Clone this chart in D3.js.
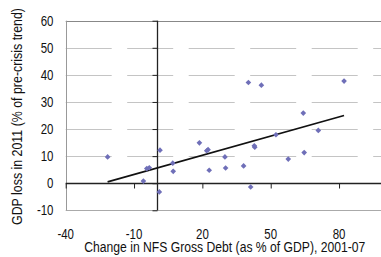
<!DOCTYPE html>
<html>
<head>
<meta charset="utf-8">
<script src="https://cdn.jsdelivr.net/npm/d3@7"></script>
<style>
  html, body { margin: 0; padding: 0; background: #fff; }
  svg { display: block; }
</style>
</head>
<body>
<div id="chart"></div>
<script>
// change in NFS gross debt (x) vs GDP loss (y)
const debtChange = [-21.6, 1.4, -4.4, -3.3, 7.0, 7.2, -5.9, 1.1, 18.7, 21.9, 22.5, 29.9, 23.0,
  30.2, 38.1, 42.8, 43.0, 52.3, 57.7, 41.2, 82.2, 64.3, 70.9, 64.7, 40.2, 45.9];
const gdpLoss = [9.7, 12.2, 5.4, 5.7, 7.4, 4.4, 0.8, -3.2, 14.9, 12.0, 12.4, 9.7, 4.8,
  5.6, 6.4, 13.8, 13.3, 17.9, 8.9, -1.4, 37.7, 25.9, 19.5, 11.3, 37.2, 36.2];
// trend line end points
const trendX = [-21.6, 82.2];
const trendY = [0.5, 25.0];

const xTicks = [-40, -10, 20, 50, 80];
const yTicks = [-10, 0, 10, 20, 30, 40, 50, 60];

const WIDTH = 381, HEIGHT = 257;
const FONT = "'Liberation Sans', Arial, sans-serif";
const FONT_SIZE = "14px";
const NARROW = 0.82; // mimic Arial Narrow

const svg = d3.select("#chart").append("svg")
  .attr("width", WIDTH)
  .attr("height", HEIGHT);

const x = d3.scaleLinear().domain([-40, 100]).range([65.7, 384.6]);
const y = d3.scaleLinear().domain([-10, 60]).range([210.3, 20.7]);

const left = x(-40), right = WIDTH;

// gridlines (dashed like the original)
svg.append("g")
  .selectAll("line")
  .data(yTicks.filter(d => d > -10 && d < 60))
  .join("line")
  .attr("x1", left).attr("x2", right)
  .attr("y1", d => Math.round(y(d)) + 0.5).attr("y2", d => Math.round(y(d)) + 0.5)
  .attr("stroke", "#c4c4c4")
  .attr("stroke-dasharray", "46 15.5");

// plot border (top, bottom, left)
const border = svg.append("g").attr("stroke", "#999").attr("fill", "none");
border.append("line")
  .attr("x1", left).attr("x2", right)
  .attr("y1", Math.round(y(60)) + 0.5).attr("y2", Math.round(y(60)) + 0.5)
  .attr("stroke", "#888");
border.append("line")
  .attr("x1", left).attr("x2", right)
  .attr("y1", Math.round(y(-10)) + 0.5).attr("y2", Math.round(y(-10)) + 0.5)
  .attr("stroke", "#aaa");
border.append("line")
  .attr("x1", Math.round(left) + 0.5).attr("x2", Math.round(left) + 0.5)
  .attr("y1", y(60)).attr("y2", y(-10));

// x axis at y = 0
const xAxis = svg.append("g")
  .attr("transform", `translate(0, ${Math.round(y(0)) + 0.5})`)
  .call(d3.axisBottom(x).tickValues(xTicks).tickSize(5).tickFormat(""));
xAxis.select(".domain").attr("d", `M${left},0H${right}`).attr("stroke", "#222").attr("stroke-width", 1.3);
xAxis.selectAll(".tick line").attr("stroke", "#222");

// y axis at x = 0
const yAxis = svg.append("g")
  .attr("transform", `translate(${Math.round(x(0)) + 0.5}, 0)`)
  .call(d3.axisLeft(y).tickValues(yTicks).tickSize(5).tickFormat(""));
yAxis.select(".domain").attr("d", `M0,${y(60)}V${y(-10)}`).attr("stroke", "#222").attr("stroke-width", 1.3);
yAxis.selectAll(".tick line").attr("stroke", "#222");

// tick labels (narrowed horizontally)
svg.append("g")
  .selectAll("text")
  .data(yTicks)
  .join("text")
  .attr("transform", d => `translate(53.5, ${y(d)}) scale(${NARROW}, 1)`)
  .attr("dy", "0.36em")
  .attr("text-anchor", "end")
  .style("font-family", FONT)
  .style("font-size", FONT_SIZE)
  .style("fill", "#111")
  .text(d => d);

svg.append("g")
  .selectAll("text")
  .data(xTicks)
  .join("text")
  .attr("transform", d => `translate(${x(d)}, 239) scale(${NARROW}, 1)`)
  .attr("text-anchor", "middle")
  .style("font-family", FONT)
  .style("font-size", FONT_SIZE)
  .style("fill", "#111")
  .text(d => d);

// axis titles
svg.append("text")
  .attr("x", 224.8)
  .attr("y", 252)
  .attr("text-anchor", "middle")
  .attr("textLength", 281)
  .attr("lengthAdjust", "spacingAndGlyphs")
  .style("font-family", FONT)
  .style("font-size", FONT_SIZE)
  .style("fill", "#111")
  .text("Change in NFS Gross Debt (as % of GDP), 2001-07");

svg.append("text")
  .attr("transform", "translate(22, 116.5) rotate(-90)")
  .attr("text-anchor", "middle")
  .attr("textLength", 217)
  .attr("lengthAdjust", "spacingAndGlyphs")
  .style("font-family", FONT)
  .style("font-size", FONT_SIZE)
  .style("fill", "#111")
  .text("GDP loss in 2011 (% of pre-crisis trend)");

// trend line
svg.append("line")
  .attr("x1", x(trendX[0])).attr("y1", y(trendY[0]))
  .attr("x2", x(trendX[1])).attr("y2", y(trendY[1]))
  .attr("stroke", "#111")
  .attr("stroke-width", 1.6);

// points
const marker = d3.symbol().type(d3.symbolSquare).size(16);
svg.append("g")
  .selectAll("path")
  .data(debtChange.map((d, i) => [d, gdpLoss[i]]))
  .join("path")
  .attr("d", marker)
  .attr("transform", d => `translate(${x(d[0])}, ${y(d[1])}) rotate(45)`)
  .attr("fill", "#6f6fb8");
</script>
</body>
</html>
